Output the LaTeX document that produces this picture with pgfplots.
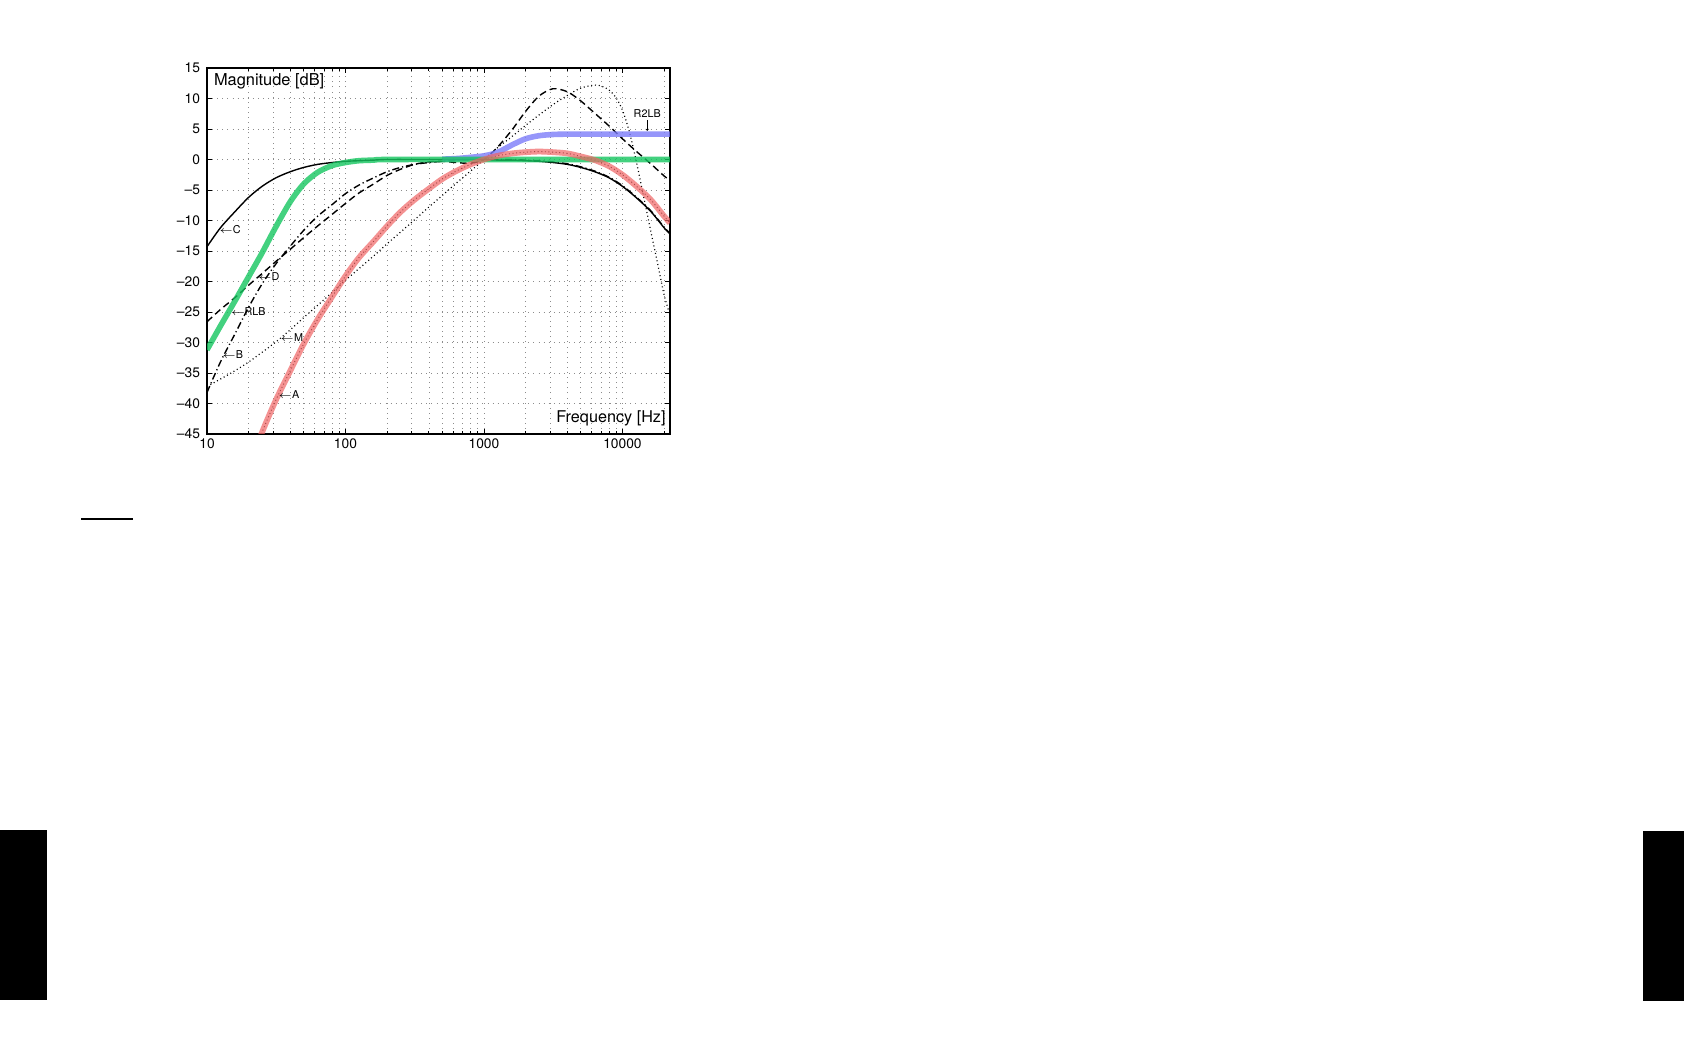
\documentclass[border=0pt]{standalone}
\usepackage{fontspec}
\setmainfont{TeX Gyre Heros}
\usepackage{pgfplots}
\pgfplotsset{compat=1.18}
\usetikzlibrary{arrows.meta}
\definecolor{rlbgreen}{RGB}{20,198,95}
\definecolor{aweightred}{RGB}{240,100,100}
\definecolor{rtwoblue}{RGB}{124,124,249}
\begin{document}
\begin{tikzpicture}[x=1pt,y=1pt]
% page: 1684x1063 px at 0.5pt per px
\fill[white] (0,0) rectangle (842,531.5);
\fill[black] (0,31.5) rectangle (23.5,116.5);
\fill[black] (821.5,31) rectangle (842,116);
\draw[line width=0.75pt] (40.5,272) -- (66.5,272);
\begin{axis}[
  at={(103.5pt,314.5pt)}, anchor=south west,
  scale only axis, width=231.5pt, height=183pt,
  xmode=log, xmin=10, xmax=22050, ymin=-45, ymax=15,
  xtick={10,100,1000,10000},
  xticklabels={10,100,1000,10000},
  minor xtick={20,30,40,50,60,70,80,90,200,300,400,500,600,700,800,900,2000,3000,4000,5000,6000,7000,8000,9000,20000},
  ytick={-45,-40,-35,-30,-25,-20,-15,-10,-5,0,5,10,15},
  yticklabels={\textendash45,\textendash40,\textendash35,\textendash30,\textendash25,\textendash20,\textendash15,\textendash10,\textendash5,0,5,10,15},
  grid=both,
  major grid style={black!45, dash pattern=on 0.35pt off 2.2pt, line width=0.35pt},
  minor grid style={black!45, dash pattern=on 0.35pt off 2.2pt, line width=0.35pt},
  tick align=inside,
  major tick length=2.5pt, minor tick length=1.5pt,
  tick style={black, line width=0.4pt},
  axis line style={line width=0.6pt},
  tick label style={font=\fontsize{6.9}{7}\selectfont},
  xticklabel style={yshift=1pt},
  /pgf/number format/assume math mode=true,
]
% A weighting, thin dotted copy under the red band
\addplot[black, line width=0.45pt, dash pattern=on 0.5pt off 1.3pt, smooth] coordinates {
(20,-50.5) (25,-44.7) (31.5,-39.4) (40,-34.6) (50,-30.2) (63,-26.2) (80,-22.5) (100,-19.1) (125,-16.1) (160,-13.4) (200,-10.9) (250,-8.6) (315,-6.6) (400,-4.8) (500,-3.2) (630,-1.9) (800,-0.8) (1000,0) (1250,0.6) (1600,1.0) (2000,1.2) (2500,1.3) (3150,1.2) (4000,1.0) (5000,0.5) (6300,-0.1) (8000,-1.1) (10000,-2.5) (12500,-4.3) (16000,-6.6) (20000,-9.3) (22050,-10.4)};
% C
\addplot[black, line width=0.7pt, smooth] coordinates {
(10,-14.3) (12.5,-11.2) (16,-8.5) (20,-6.2) (25,-4.4) (31.5,-3.0) (40,-2.0) (50,-1.3) (63,-0.8) (80,-0.5) (100,-0.3) (125,-0.2) (160,-0.1) (200,0) (400,0) (800,0) (1000,0) (1250,-0.1) (1600,-0.1) (2000,-0.2) (2500,-0.3) (3150,-0.5) (4000,-0.8) (5000,-1.3) (6300,-2.0) (8000,-3.0) (10000,-4.4) (12500,-6.2) (16000,-8.5) (20000,-11.2) (22050,-12.2)};
% B
\addplot[black, line width=0.7pt, dash pattern=on 3.5pt off 1.5pt on 0.6pt off 1.5pt, smooth] coordinates {
(10,-38.2) (12.5,-33.2) (16,-28.5) (20,-24.2) (25,-20.4) (31.5,-17.1) (40,-14.2) (50,-11.6) (63,-9.3) (80,-7.4) (100,-5.6) (125,-4.2) (160,-3.0) (200,-2.0) (250,-1.3) (315,-0.8) (400,-0.5) (500,-0.3) (630,-0.1) (800,0) (1000,0) (1250,0) (1600,0) (2000,-0.1) (2500,-0.2) (3150,-0.4) (4000,-0.7) (5000,-1.2) (6300,-1.9) (8000,-2.9) (10000,-4.3) (12500,-6.1) (16000,-8.4) (20000,-11.1) (22050,-12.1)};
% D
\addplot[black, line width=0.7pt, dash pattern=on 3.5pt off 2pt, smooth] coordinates {
(10,-26.6) (12.5,-24.6) (16,-22.6) (20,-20.6) (25,-18.7) (31.5,-16.7) (40,-14.7) (50,-12.8) (63,-10.9) (80,-9.0) (100,-7.2) (125,-5.5) (160,-4.0) (200,-2.6) (250,-1.6) (315,-0.8) (400,-0.4) (500,-0.3) (630,-0.5) (800,-0.6) (1000,0) (1250,2.0) (1600,4.9) (2000,7.9) (2500,10.4) (3150,11.6) (4000,11.1) (5000,9.6) (6300,7.6) (8000,5.5) (10000,3.4) (12500,1.4) (16000,-0.7) (20000,-2.7) (22050,-3.4)};
% M
\addplot[black, line width=0.6pt, dash pattern=on 0.5pt off 1.4pt, smooth] coordinates {
(10,-37.2) (12.5,-36.0) (16,-34.6) (20,-33.2) (25,-31.6) (31.5,-29.9) (40,-27.9) (50,-25.9) (63,-23.9) (80,-21.8) (100,-19.8) (125,-17.9) (160,-15.8) (200,-13.8) (250,-11.9) (315,-9.9) (400,-7.8) (500,-5.9) (630,-3.9) (800,-1.9) (1000,0) (1250,1.9) (1600,3.8) (2000,5.6) (2500,7.3) (3150,9.0) (4000,10.5) (5000,11.7) (6300,12.2) (7100,12.0) (8000,11.4) (9000,10.1) (10000,8.1) (11200,4.6) (12500,0.0) (14000,-5.3) (16000,-11.7) (18000,-17.2) (20000,-22.2) (22050,-25.5)};
% R2LB (below 500 Hz it lies under RLB)
\addplot[rtwoblue, opacity=0.8, line width=2.8pt, smooth] coordinates {
(500,0.05) (630,0.15) (800,0.35) (1000,0.6) (1250,1.15) (1600,2.4) (2000,3.4) (2500,3.9) (3150,4.1) (4000,4.15) (8000,4.15) (22050,4.15)};
% RLB
\addplot[rlbgreen, opacity=0.8, line width=2.8pt, smooth] coordinates {
(10,-31.2) (12.5,-27.3) (16,-23.1) (20,-19.2) (25,-15.3) (31.5,-11.0) (40,-6.9) (50,-4.0) (63,-2.1) (80,-1.0) (100,-0.5) (125,-0.2) (160,-0.1) (200,0) (1000,0) (5000,0) (22050,0)};
% A
\addplot[aweightred, opacity=0.7, line width=2.9pt, smooth] coordinates {
(20,-50.5) (25,-44.7) (31.5,-39.4) (40,-34.6) (50,-30.2) (63,-26.2) (80,-22.5) (100,-19.1) (125,-16.1) (160,-13.4) (200,-10.9) (250,-8.6) (315,-6.6) (400,-4.8) (500,-3.2) (630,-1.9) (800,-0.8) (1000,0) (1250,0.6) (1600,1.0) (2000,1.2) (2500,1.3) (3150,1.2) (4000,1.0) (5000,0.5) (6300,-0.1) (8000,-1.1) (10000,-2.5) (12500,-4.3) (16000,-6.6) (20000,-9.3) (22050,-10.4)};
% labels
\node[anchor=north west, inner sep=0pt, font=\fontsize{8.2}{9}\selectfont] at (rel axis cs:0,1) [xshift=3.3pt, yshift=-2.8pt] {Magnitude [dB]};
\node[anchor=base east, inner sep=0pt, font=\fontsize{8.1}{9}\selectfont] at (rel axis cs:1,0) [xshift=-2pt, yshift=5.5pt] {Frequency [Hz]};
\begin{scope}[every node/.style={inner sep=0pt, font=\fontsize{5.4}{6}\selectfont}]
\node[anchor=west] at (axis cs:12.2,-11.5) {$\leftarrow$C};
\node[anchor=west] at (axis cs:23.2,-19.2) {$\leftarrow$D};
\node[anchor=west] at (axis cs:14.8,-25.0) {$\leftarrow$RLB};
\node[anchor=west] at (axis cs:12.8,-32.0) {$\leftarrow$B};
\node[anchor=west] at (axis cs:33.7,-29.2) {$\leftarrow$M};
\node[anchor=west] at (axis cs:32.6,-38.5) {$\leftarrow$A};
\node at (axis cs:15100,7.6) {R2LB};
\end{scope}
\draw[-{To[length=1pt,width=1.6pt]}, line width=0.35pt] (axis cs:15100,6.5) -- (axis cs:15100,4.7);
\end{axis}
\end{tikzpicture}
\end{document}
